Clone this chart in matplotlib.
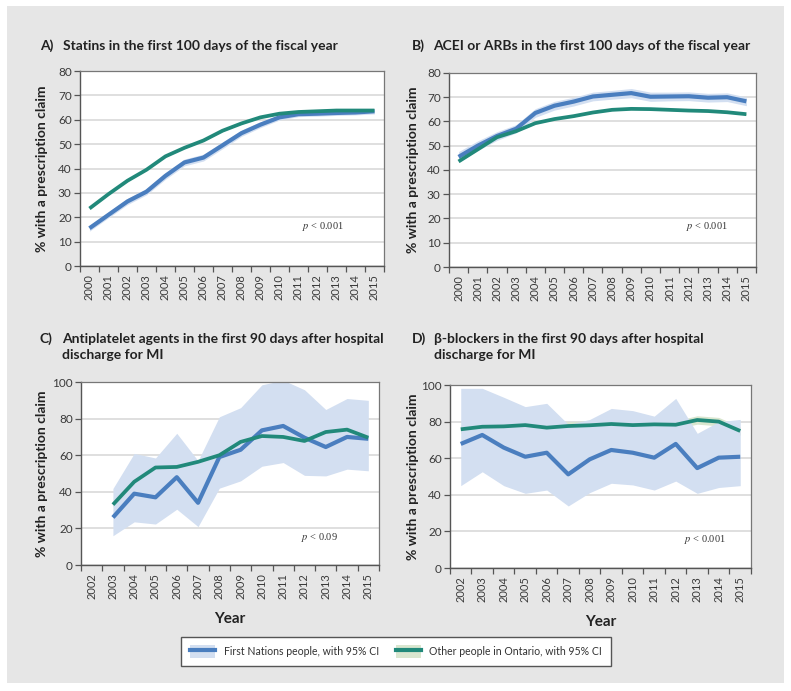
import matplotlib
matplotlib.use("Agg")
import matplotlib.pyplot as plt
from matplotlib.patches import Rectangle, Patch
from matplotlib.lines import Line2D
import numpy as np

# ---- data ----
years_ab = [str(y) for y in range(2000, 2016)]
years_cd = [str(y) for y in range(2002, 2016)]

statins_fn = [15.5, 21, 26.5, 30.5, 37, 42.5, 44.5, 49.5, 54.5, 58, 61, 62.3, 62.5, 62.8, 63, 63.5]
statins_fn_lo = [14.3, 19.8, 25.2, 29.2, 35.6, 41.1, 43.1, 48.1, 53.2, 56.8, 59.9, 61.3, 61.5, 61.8, 62.0, 62.4]
statins_fn_hi = [16.7, 22.2, 27.8, 31.8, 38.4, 43.9, 45.9, 50.9, 55.8, 59.2, 62.1, 63.3, 63.5, 63.8, 64.0, 64.6]
statins_on = [23.6, 29.5, 35, 39.5, 45, 48.5, 51.5, 55.5, 58.5, 61, 62.5, 63.2, 63.5, 63.8, 63.8, 63.8]
statins_on_lo = [23.3, 29.2, 34.7, 39.2, 44.7, 48.2, 51.2, 55.2, 58.2, 60.7, 62.2, 62.9, 63.2, 63.5, 63.5, 63.5]
statins_on_hi = [23.9, 29.8, 35.3, 39.8, 45.3, 48.8, 51.8, 55.8, 58.8, 61.3, 62.8, 63.5, 63.8, 64.1, 64.1, 64.1]

acei_fn = [45.4, 50, 54, 57, 63.5, 66.5, 68.2, 70.3, 71, 71.7, 70.2, 70.3, 70.4, 69.8, 70, 68.3]
acei_fn_lo = [43.2, 48, 52.2, 55.3, 61.7, 64.7, 66.4, 68.5, 69.2, 69.8, 68.3, 68.5, 68.6, 68.0, 68.2, 66.5]
acei_fn_hi = [47.6, 52, 55.8, 58.7, 65.3, 68.3, 70.0, 72.1, 72.8, 73.6, 72.1, 72.1, 72.2, 71.6, 71.8, 70.1]
acei_on = [43.5, 48.5, 53.5, 56, 59.3, 61, 62.2, 63.7, 64.8, 65.2, 65.1, 64.8, 64.5, 64.3, 63.8, 63]
acei_on_lo = [43.2, 48.2, 53.2, 55.7, 59.0, 60.7, 61.9, 63.4, 64.5, 64.9, 64.8, 64.5, 64.2, 64.0, 63.5, 62.7]
acei_on_hi = [43.8, 48.8, 53.8, 56.3, 59.6, 61.3, 62.5, 64.0, 65.1, 65.5, 65.4, 65.1, 64.8, 64.6, 64.1, 63.3]

nan = np.nan
anti_fn = [nan, 26, 39, 37, 48, 34, 59, 63, 73.6, 76, 69.6, 64.5, 70, 69]
anti_fn_lo = [nan, 16, 23.6, 22.4, 30.5, 21, 42, 46, 54, 56, 49, 48.7, 52.4, 51.5]
anti_fn_hi = [nan, 41.8, 61, 58.5, 72, 57, 81, 86, 98.5, 101, 95.8, 85, 91, 90]
anti_on = [nan, 33, 45.5, 53.3, 53.6, 56.4, 60, 67.3, 70.5, 70, 67.8, 72.7, 74, 69.6]
anti_on_lo = [nan, 31.8, 44.3, 52.1, 52.4, 55.2, 58.8, 66.1, 69.3, 68.8, 66.6, 71.5, 72.8, 68.4]
anti_on_hi = [nan, 34.2, 46.7, 54.5, 54.8, 57.6, 61.2, 68.5, 71.7, 71.2, 69.0, 73.9, 75.2, 70.8]

beta_fn = [67.8, 72.7, 65.8, 60.8, 63, 51.2, 59.4, 64.5, 63, 60.3, 67.8, 54.6, 60.3, 60.8]
beta_fn_lo = [45, 52.6, 45, 40.8, 42.6, 33.9, 41.2, 46.3, 45.4, 42.6, 47.5, 40.8, 44, 45]
beta_fn_hi = [98.2, 98.2, 93.3, 88.2, 90, 78.5, 81.2, 87.2, 86, 83, 92.7, 73.6, 80, 81.2]
beta_on = [75.8, 77.2, 77.4, 78.1, 76.7, 77.6, 78, 78.7, 78.1, 78.5, 78.3, 80.9, 80, 74.9]
beta_on_lo = [73.6, 75.0, 75.2, 75.9, 74.5, 75.3, 75.7, 76.5, 75.9, 76.3, 76.1, 78.6, 77.7, 72.6]
beta_on_hi = [78.0, 79.4, 79.6, 80.3, 78.9, 79.9, 80.3, 80.9, 80.3, 80.7, 80.5, 83.2, 82.3, 77.2]

p_values = ["0.001", "0.001", "0.09", "0.001"]
titles = [
    ("A)", ["Statins in the first 100 days of the fiscal year"]),
    ("B)", ["ACEI or ARBs in the first 100 days of the fiscal year"]),
    ("C)", ["Antiplatelet agents in the first 90 days after hospital", "discharge for MI"]),
    ("D)", ["\u03b2-blockers in the first 90 days after hospital", "discharge for MI"]),
]

BLUE = "#4a7ebf"
BLUE_CI = "#d3dff1"
GREEN = "#21897a"
GREEN_CI = "#d9e6cf"
BG = "#e6e6e6"
TXT = "#3a3a3a"

plt.rcParams["font.family"] = "Lato"
plt.rcParams["mathtext.fontset"] = "stix"

fig = plt.figure(figsize=(7.91, 6.91), dpi=100)
fig.patches.append(Rectangle((7 / 791, 1 - 683 / 691), 777 / 791, 677 / 691,
                             transform=fig.transFigure, facecolor=BG, edgecolor="none", zorder=-10))

positions = [
    [0.1011, 0.6150, 0.3843, 0.2822],
    [0.5676, 0.6136, 0.3881, 0.2808],
    [0.1024, 0.1823, 0.3767, 0.2648],
    [0.5689, 0.1780, 0.3805, 0.2648],
]
panels = [
    (years_ab, statins_fn, statins_fn_lo, statins_fn_hi, statins_on, statins_on_lo, statins_on_hi, 80, 10),
    (years_ab, acei_fn, acei_fn_lo, acei_fn_hi, acei_on, acei_on_lo, acei_on_hi, 80, 10),
    (years_cd, anti_fn, anti_fn_lo, anti_fn_hi, anti_on, anti_on_lo, anti_on_hi, 100, 20),
    (years_cd, beta_fn, beta_fn_lo, beta_fn_hi, beta_on, beta_on_lo, beta_on_hi, 100, 20),
]
# (label x, first baseline y, text x) in pixels
title_xy = [(40, 50, 63), (412, 50, 433), (40, 343, 62), (412, 343, 434)]
ylab_x = [42, 413, 42, 413]
p_xy = [(0.73, 0.205), (0.772, 0.21), (0.74, 0.153), (0.777, 0.158)]

for i, (pos, pan) in enumerate(zip(positions, panels)):
    cats, fn, fn_lo, fn_hi, on, on_lo, on_hi, ymax, ystep = pan
    x = np.arange(len(cats))
    ax = fig.add_axes(pos)
    ax.set_facecolor("white")
    ax.fill_between(x, on_lo, on_hi, color=GREEN_CI, lw=0, zorder=1)
    ax.fill_between(x, fn_lo, fn_hi, color=BLUE_CI, lw=0, zorder=2)
    ax.plot(x, fn, color=BLUE, lw=3, solid_capstyle="butt", zorder=3)
    ax.plot(x, on, color=GREEN, lw=2.7, solid_capstyle="butt", zorder=4)
    ax.set_xlim(-0.5, len(cats) - 0.5)
    ax.set_ylim(0, ymax)
    ax.set_yticks(np.arange(0, ymax + 1, ystep))
    ax.yaxis.grid(True, color="#d9d9d9", lw=1.2)
    ax.set_axisbelow(True)
    ax.set_xticks(x)
    ax.set_xticklabels(cats, rotation=90)
    ax.set_xticks(np.arange(-0.5, len(cats)), minor=True)
    ax.tick_params(axis="x", which="major", length=0, pad=6, labelsize=8, labelcolor=TXT)
    ax.tick_params(axis="x", which="minor", length=4, width=0.9, color="#555555", direction="out")
    ax.tick_params(axis="y", length=4, width=0.9, color="#555555", pad=2, labelsize=8.5, labelcolor=TXT)
    for s in ["left", "bottom"]:
        ax.spines[s].set_color("#555555")
        ax.spines[s].set_linewidth(1.0)
    for s in ["top", "right"]:
        ax.spines[s].set_color("#777777")
        ax.spines[s].set_linewidth(0.9)
    ax.text(p_xy[i][0], p_xy[i][1], r"$p$ < " + p_values[i], transform=ax.transAxes,
            family="Liberation Serif", fontsize=7.5, color="#333333", ha="left", va="center")
    # panel titles
    lx, ly, tx = title_xy[i]
    fig.text(lx / 791, 1 - ly / 691, titles[i][0], fontsize=10, fontweight="bold", color="#222222",
             ha="left", va="baseline")
    for k, line in enumerate(titles[i][1]):
        fig.text(tx / 791, 1 - (ly + 16 * k) / 691, line, fontsize=10, fontweight="bold",
                 color="#222222", ha="left", va="baseline")
    # y label
    fig.text(ylab_x[i] / 791, pos[1] + pos[3] / 2, "% with a prescription claim", rotation=90,
             fontsize=10, fontweight="bold", color="#222222", ha="center", va="center")
    if i >= 2:
        ax.set_xlabel("Year", fontsize=11, fontweight="bold", color="#222222", labelpad=9)

handles = [
    (Patch(facecolor=BLUE_CI, edgecolor="none"), Line2D([], [], color=BLUE, lw=3)),
    (Patch(facecolor=GREEN_CI, edgecolor="none"), Line2D([], [], color=GREEN, lw=3)),
]
labels = ["First Nations people, with 95% CI", "Other people in Ontario, with 95% CI"]
leg = fig.legend(handles, labels, loc="center", bbox_to_anchor=(396 / 791, 1 - 651.5 / 691), ncol=2,
                 frameon=True, fancybox=False, edgecolor="#555555", facecolor="white", framealpha=1,
                 fontsize=7.6, handlelength=2.4, handleheight=1.4, handletextpad=0.8,
                 columnspacing=1.6, borderpad=0.8, borderaxespad=0, labelcolor="#333333")
leg.get_frame().set_linewidth(1.0)

fig.savefig("out.png", dpi=100, facecolor="white")
